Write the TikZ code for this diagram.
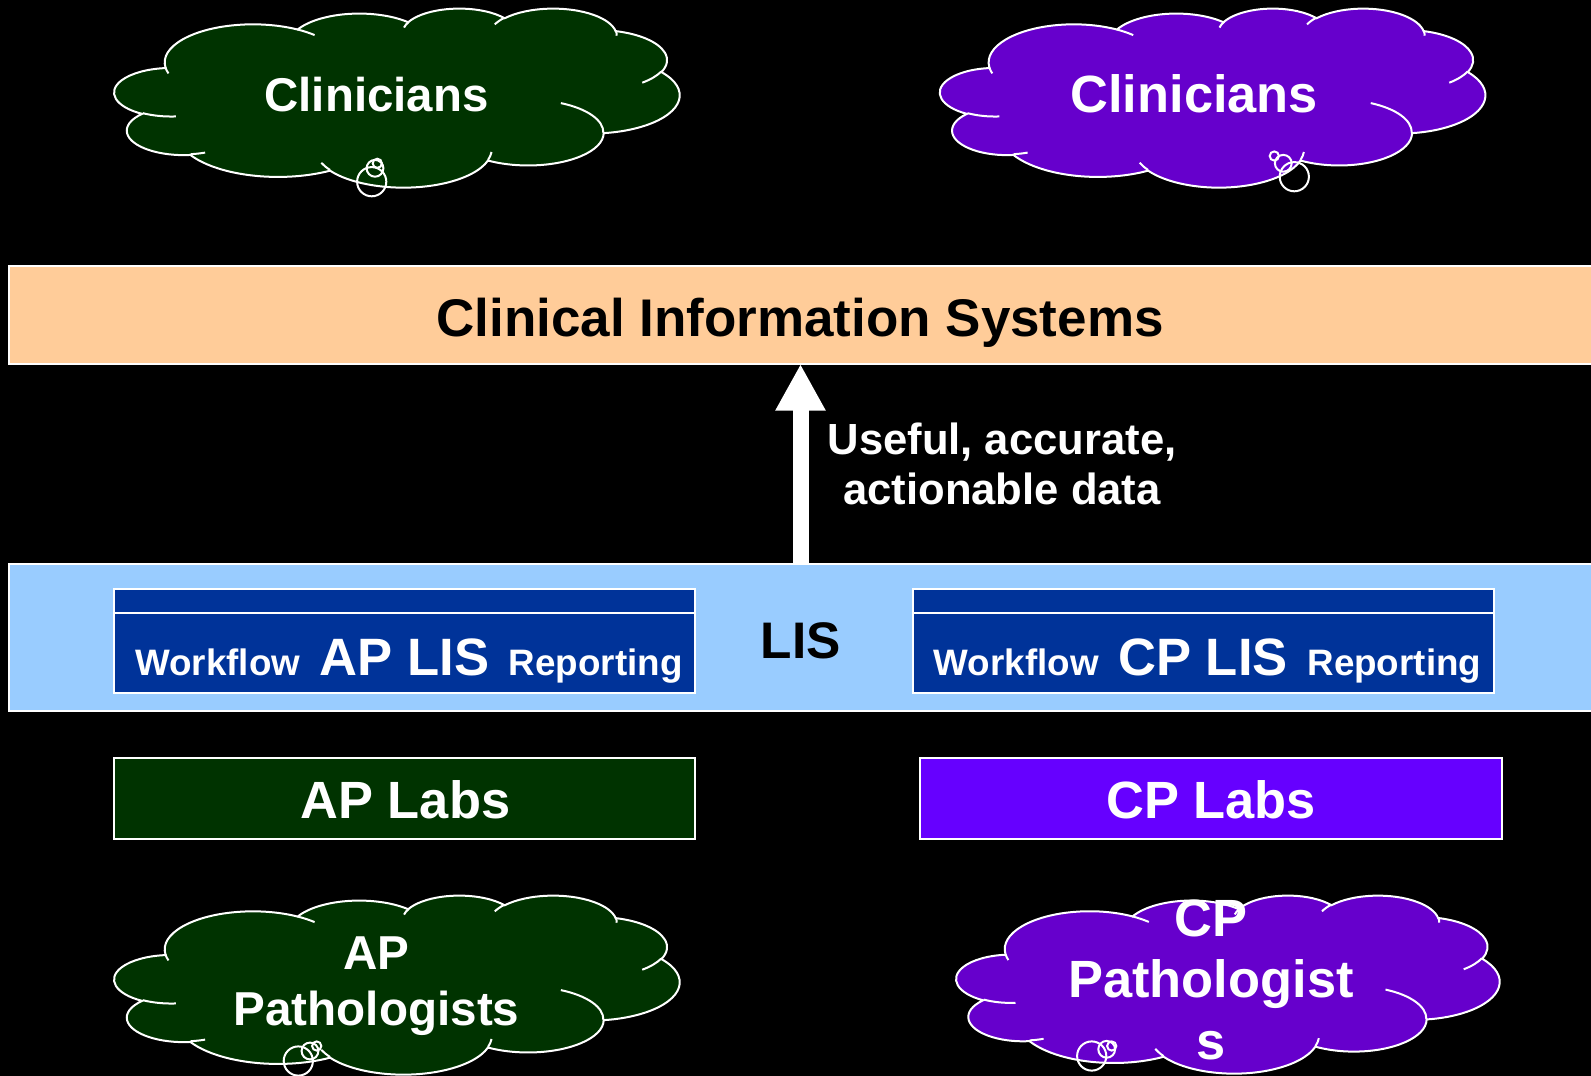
\documentclass[tikz,border=0pt]{standalone}
\usepackage{fontspec}
\setmainfont{Liberation Sans}
\usetikzlibrary{arrows.meta}
\definecolor{cisorange}{HTML}{FFCC99}
\definecolor{lisblue}{HTML}{99CCFF}
\definecolor{boxblue}{HTML}{003399}
\definecolor{apgreen}{HTML}{003300}
\definecolor{cppurple}{HTML}{6600CC}
\definecolor{labpurple}{HTML}{6600FF}

\newcommand\ooang[4]{%
  \pgfmathsetmacro\ooA{atan2((#1)*sin(#3),(#2)*cos(#3))}%
  \pgfmathsetmacro\ooB{atan2((#1)*sin((#3)+(#4)),(#2)*cos((#3)+(#4)))}%
  \pgfmathsetmacro\ooD{\ooB-\ooA}%
  \pgfmathsetmacro\ooD{\ooD+360*((#4>0)*(\ooD<0))-360*((#4<0)*(\ooD>0))}%
  \xdef\oost{\ooA}\xdef\oodl{\ooD}}
\newcommand\ooarc[4]{\pgfextra{\ooang{#1}{#2}{#3}{#4}} arc[start angle=\oost, delta angle=\oodl, x radius=#1, y radius=#2]}

\newcommand\cloudcallout[5]{%
  \pgfmathsetmacro\cldx{#3/864}%
  \pgfmathsetmacro\cldy{#4/864}%
  \begin{scope}[shift={(#1,#2)}, x=\cldx pt, y=-\cldy pt]
    \path[fill=#5, draw=white, line width=1pt] (39.00,143.70)
      \ooarc{67.53}{91.90}{-190.4875}{123.7805}
      \ooarc{53.33}{72.67}{-144.1024}{89.9452}
      \ooarc{43.65}{59.45}{-145.8079}{99.7230}
      \ooarc{48.57}{65.95}{-130.9861}{117.2417}
      \ooarc{53.33}{72.73}{-78.7089}{109.0269}
      \ooarc{67.75}{92.20}{-46.2673}{130.2690}
      \ooarc{57.85}{78.67}{0.6250}{114.0333}
      \ooarc{67.52}{92.15}{22.4516}{115.1726}
      \ooarc{77.20}{105.43}{66.2426}{75.7110}
      \ooarc{43.60}{59.18}{-274.9421}{146.7356}
      \ooarc{43.45}{59.45}{-246.8285}{152.5189}
      -- cycle;
    \draw[white, line width=1pt]
      (46.93,261.77) \ooarc{43.45}{59.45}{86.7420}{26.4295}
      (69.28,348.99) \ooarc{43.60}{59.18}{73.6105}{11.4475}
      (164.78,390.90) \ooarc{67.52}{92.15}{137.6242}{14.0811}
      (288.27,347.51) \ooarc{67.52}{92.15}{6.4533}{15.9984}
      (341.29,229.54) \ooarc{57.85}{78.67}{-70.2924}{70.9174}
      (417.98,153.54) \ooarc{53.33}{72.73}{30.3180}{27.7515}
      (383.24,54.26) \ooarc{48.57}{65.95}{-13.7443}{14.8589}
      (290.78,39.52) \ooarc{48.57}{65.95}{-149.1815}{18.1954}
      (221.41,47.20) \ooarc{43.65}{59.45}{-163.4943}{17.6864}
      (140.00,51.92) \ooarc{67.53}{91.90}{-66.7070}{12.3194}
      (41.27,157.89) \ooarc{67.53}{91.90}{157.6544}{11.8582};
  \end{scope}}

\newcommand\bubbles[6]{% big x y, mid x y, small x y
  \draw[white, line width=1pt] (#1,#2) circle[radius=7.3pt];
  \draw[white, line width=1pt] (#3,#4) circle[radius=4.2pt];
  \draw[white, line width=1pt] (#5,#6) circle[radius=2.3pt];}

\begin{document}
\begin{tikzpicture}[x=0.5pt, y=-0.5pt,
  bar/.style={draw=white, line width=1pt, inner sep=0pt, outer sep=0pt},
  wtxt/.style={text=white, align=center, inner sep=0pt},
  btxt/.style={text=black, align=center, inner sep=0pt}]
\fill[black] (0,0) rectangle (1591,1076);
\useasboundingbox (0,0) rectangle (1591,1076);

% clouds
\cloudcallout{114.5}{8}{565}{179}{apgreen}
\bubbles{371.7}{181.7}{375}{168.3}{377.3}{163.3}
\node[wtxt, anchor=base, font=\bfseries\fontsize{23.7pt}{28pt}\selectfont] (clinA) at (376.5,111.5) {Clinicians};

\cloudcallout{940.2}{8}{545}{179}{cppurple}
\bubbles{1294.3}{176.7}{1283.3}{163.3}{1274.3}{156}
\node[wtxt, anchor=base, font=\bfseries\fontsize{26.2pt}{30pt}\selectfont] (clinC) at (1194.3,112.5) {Clinicians};

\cloudcallout{114.5}{895}{565}{179}{apgreen}
\bubbles{298.3}{1061}{310}{1051}{316.7}{1046}
\node[wtxt, font=\bfseries\fontsize{23.8pt}{28.3pt}\selectfont] (pathA) at (376.5,986) {AP\\Pathologists};

\cloudcallout{956.5}{895}{543}{178}{cppurple}
\bubbles{1091.7}{1056}{1106.7}{1049.3}{1111.7}{1046}
\node[wtxt, font=\bfseries\fontsize{26.2pt}{30.75pt}\selectfont] (pathC) at (1211,979.5) {CP\\Pathologist\\s};

% bars
\node[bar, fill=cisorange, minimum width=791.5pt, minimum height=49.15pt] (cis) at (800.5,314.85) {};
\node[btxt, anchor=base, font=\bfseries\fontsize{26.5pt}{30pt}\selectfont] (cistxt) at (800,336) {Clinical Information Systems};

\node[bar, fill=lisblue, minimum width=791.5pt, minimum height=73.2pt] (lis) at (800.5,637.5) {};
\node[btxt, anchor=base, font=\bfseries\fontsize{25.7pt}{30pt}\selectfont] (listxt) at (800.6,658) {LIS};

% LIS sub boxes
\node[bar, fill=boxblue, minimum width=290.35pt, minimum height=52pt] (aplis) at (404.7,641.3) {};
\draw[white, line width=1pt] ([yshift=-12pt]aplis.north west) -- ([yshift=-12pt]aplis.north east);
\node[wtxt, anchor=base, font=\bfseries] (aplistxt) at (409,675.5) {\fontsize{18.4pt}{20pt}\selectfont Workflow\hspace{9.8pt}\fontsize{26.3pt}{30pt}\selectfont AP LIS\hspace{9.8pt}\fontsize{18.4pt}{20pt}\selectfont Reporting};

\node[bar, fill=boxblue, minimum width=290.2pt, minimum height=52pt] (cplis) at (1203.4,641.3) {};
\draw[white, line width=1pt] ([yshift=-12pt]cplis.north west) -- ([yshift=-12pt]cplis.north east);
\node[wtxt, anchor=base, font=\bfseries] (cplistxt) at (1207.5,675.5) {\fontsize{18.4pt}{20pt}\selectfont Workflow\hspace{9.8pt}\fontsize{26.3pt}{30pt}\selectfont CP LIS\hspace{9.8pt}\fontsize{18.4pt}{20pt}\selectfont Reporting};

% labs
\node[bar, fill=apgreen, minimum width=290.35pt, minimum height=40.5pt] (aplabs) at (404.7,798.8) {};
\node[wtxt, anchor=base, font=\bfseries\fontsize{26.2pt}{30pt}\selectfont] (aplabstxt) at (405.4,818.3) {AP Labs};
\node[bar, fill=labpurple, minimum width=290.75pt, minimum height=40.5pt] (cplabs) at (1211,798.8) {};
\node[wtxt, anchor=base, font=\bfseries\fontsize{26.2pt}{30pt}\selectfont] (cplabstxt) at (1211,818.3) {CP Labs};

% arrow
\draw[white, line width=8pt, -{Triangle[length=23.3pt, width=23.5pt]}] (lis.north) -- (cis.south);
\node[wtxt, font=\bfseries\fontsize{21.8pt}{25.25pt}\selectfont] (data) at (1002,464) {Useful, accurate,\\actionable data};
\end{tikzpicture}
\end{document}
